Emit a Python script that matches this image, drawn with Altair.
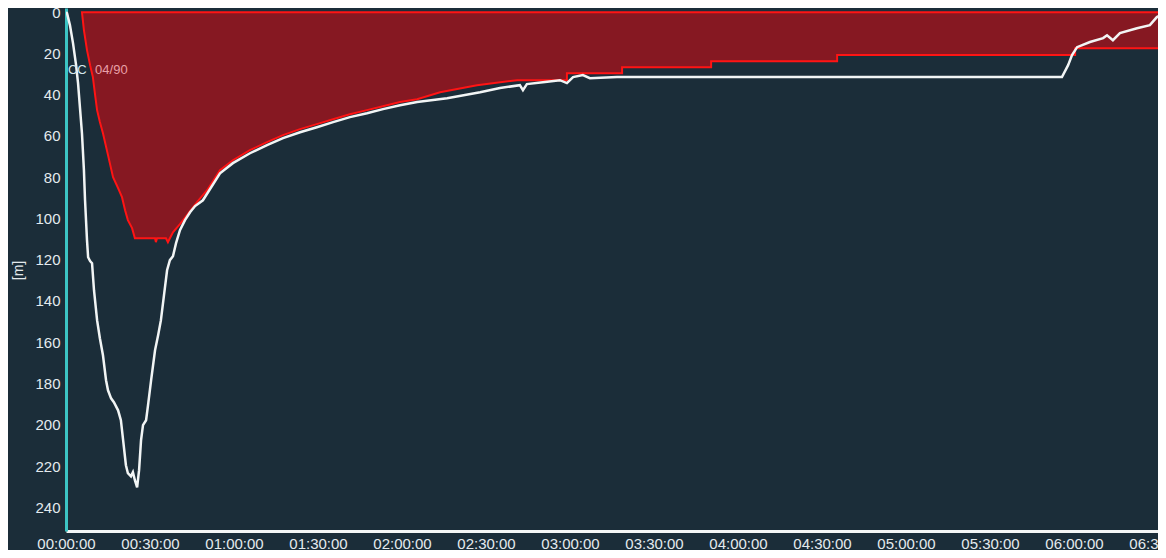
import altair as alt
import pandas as pd

# ---- data (minutes, depth in m) ----
white_min = [0, 0.36, 1.4, 2.5, 3.6, 4.3, 5.0, 5.7, 6.4, 6.8, 7.5, 7.9, 8.6, 9.3, 10.0, 11.1, 12.1, 13.2,
             14.3, 15.0, 16.1, 17.1, 18.6, 19.6, 20.4, 21.4, 22.1, 23.2, 23.9, 24.6, 25.4, 26.1, 26.8,
             27.5, 28.6, 29.3, 30.4, 31.8, 32.9, 33.9, 35.0, 36.1, 37.1, 38.2, 39.3, 40.7, 42.5, 44.3,
             46.1, 48.9, 55.0, 59.6, 65.7, 71.8, 77.5, 83.6, 89.6, 95.4, 101.4, 107.5, 113.2, 119.3,
             125.4, 136.1, 147.9, 155.0, 162.1, 163.2, 164.6, 171.1, 176.4, 178.9, 181.1, 184.6, 187.1,
             196.8, 226.4, 355.7, 357.9, 359.3, 361.1, 365.7, 370.4, 371.8, 373.9, 376.4, 382.5, 387.1,
             389.6, 391.8]
white_depth = [0, 0.5, 6.3, 15.0, 25.7, 34.4, 46.5, 58.7, 76.6, 91.2, 110.5, 118.8, 120.7, 121.7, 134.8,
               149.3, 158.1, 166.3, 178.4, 183.3, 187.2, 189.1, 193.0, 197.8, 207.5, 219.6, 223.5, 225.0,
               223.0, 226.9, 230.3, 222.0, 207.5, 200.2, 197.8, 190.5, 178.4, 163.9, 156.6, 149.3, 137.2,
               125.1, 120.2, 118.3, 112.0, 105.7, 100.8, 97.0, 94.0, 91.2, 78.1, 73.2, 68.4, 64.5, 61.1,
               58.2, 55.8, 53.3, 50.9, 49.0, 47.0, 45.1, 43.6, 41.7, 38.8, 36.8, 35.4, 37.8, 34.9, 33.9,
               33.0, 34.4, 31.5, 30.5, 32.0, 31.5, 31.5, 31.5, 25.7, 20.8, 17.0, 14.5, 12.6, 11.2, 13.6,
               10.2, 7.8, 6.3, 2.4, 0.5]

red_min = [5.7, 6.4, 7.5, 8.6, 9.6, 10.4, 11.1, 12.1, 13.2, 15.0, 16.8, 18.6, 20.0, 21.1, 22.1, 23.6,
           24.6, 31.8, 32.1, 32.5, 35.7, 36.4, 37.1, 38.2, 40.7, 43.2, 46.8, 50.4, 55.0, 59.6, 65.7,
           71.8, 77.5, 83.6, 89.6, 95.4, 101.4, 107.5, 113.2, 119.3, 125.4, 133.6, 146.8, 161.1, 178.9,
           178.9, 198.6, 198.6, 230.4, 230.4, 275.4, 275.4, 360.4, 360.4, 390.0]
red_depth = [0, 8.7, 18.4, 25.7, 31.5, 40.2, 47.5, 53.3, 58.7, 69.3, 80.0, 85.3, 89.7, 96.0, 100.8, 104.7,
             109.6, 109.6, 111.5, 109.6, 109.6, 111.5, 109.6, 106.7, 102.8, 98.4, 92.1, 86.3, 76.6, 71.8,
             66.9, 63.0, 59.6, 56.7, 54.3, 51.9, 49.5, 47.5, 45.6, 43.6, 42.2, 38.8, 35.4, 33.0, 33.0,
             29.6, 29.6, 26.7, 26.7, 23.8, 23.8, 20.8, 20.8, 17.5, 17.5]

x_ticks = [0, 30, 60, 90, 120, 150, 180, 210, 240, 270, 300, 330, 360, 390]
y_ticks = [0, 20, 40, 60, 80, 100, 120, 140, 160, 180, 200, 220, 240]

label_texts = ["CC", "04/90"]
label_min = [0.7, 10.4]
label_depth = [28.1, 28.1]

BG = "#1b2d39"
FONT = "Liberation Sans"

white_df = pd.DataFrame({"t": white_min, "d": white_depth, "i": range(len(white_min))})
red_df = pd.DataFrame({"t": red_min, "d": red_depth, "z": [0] * len(red_min)})
line_df = pd.DataFrame({"t": [red_min[-1]] + red_min, "d": [0] + red_depth,
                        "i": range(len(red_min) + 1)})
lab_df = pd.DataFrame({"t": label_min, "d": label_depth, "s": label_texts,
                       "c": ["#d5e6ec", "#e8a0a8"]})

x_scale = alt.Scale(domain=[0, 390], nice=False, zero=False)
y_scale = alt.Scale(domain=[-2, 251.5], reverse=True, nice=False, zero=False)

x_axis = alt.Axis(values=x_ticks, title=None, grid=False, ticks=False, domainColor="#f4f6f6",
                  domainWidth=3, labelColor="#e4eaee", labelFontSize=15, labelFont=FONT,
                  labelPadding=5, labelFlush=False, labelOverlap=False, labelBound=False,
                  labelExpr="pad(floor(datum.value/60),2,'0','left') + ':' + pad(datum.value%60,2,'0','left') + ':00'")
y_axis = alt.Axis(values=y_ticks, title="[m]", grid=False, ticks=False, domainColor="#3cc4c4",
                  domainWidth=3, labelColor="#e4eaee", labelFontSize=15, labelFont=FONT,
                  labelPadding=6, labelFlush=False, labelOverlap=False, labelBound=False,
                  titleColor="#e4eaee", titleFont=FONT, titleFontSize=14, titleFontWeight="normal",
                  titleX=-48, titleY=262, titleAngle=270, titleAlign="center", titleBaseline="middle")

area = alt.Chart(red_df).mark_area(color="#861822", fillOpacity=1, clip=True).encode(
    x=alt.X("t:Q", scale=x_scale, axis=x_axis),
    y=alt.Y("d:Q", scale=y_scale, axis=y_axis, stack=None),
    y2=alt.Y2("z:Q"),
)
red_line = alt.Chart(line_df).mark_line(color="#ff1414", strokeWidth=2, clip=True).encode(
    x=alt.X("t:Q", scale=x_scale),
    y=alt.Y("d:Q", scale=y_scale),
    order="i:Q",
)
white_line = alt.Chart(white_df).mark_line(color="#f2f5f5", strokeWidth=2.5, clip=True).encode(
    x=alt.X("t:Q", scale=x_scale),
    y=alt.Y("d:Q", scale=y_scale),
    order="i:Q",
)
labels = alt.Chart(lab_df).mark_text(align="left", baseline="middle", fontSize=13, font=FONT).encode(
    x=alt.X("t:Q", scale=x_scale),
    y=alt.Y("d:Q", scale=y_scale),
    text="s:N",
    color=alt.Color("c:N", scale=None),
)

chart = alt.layer(area, red_line, white_line, labels).properties(
    width=1092, height=523,
    autosize=alt.AutoSizeParams(type="none"),
    padding={"left": 58, "top": 0, "right": 0, "bottom": 19},
    background=BG,
).configure_view(stroke=None, fill=BG)

chart.save("out.html", embed_options={"renderer": "svg", "actions": False})
